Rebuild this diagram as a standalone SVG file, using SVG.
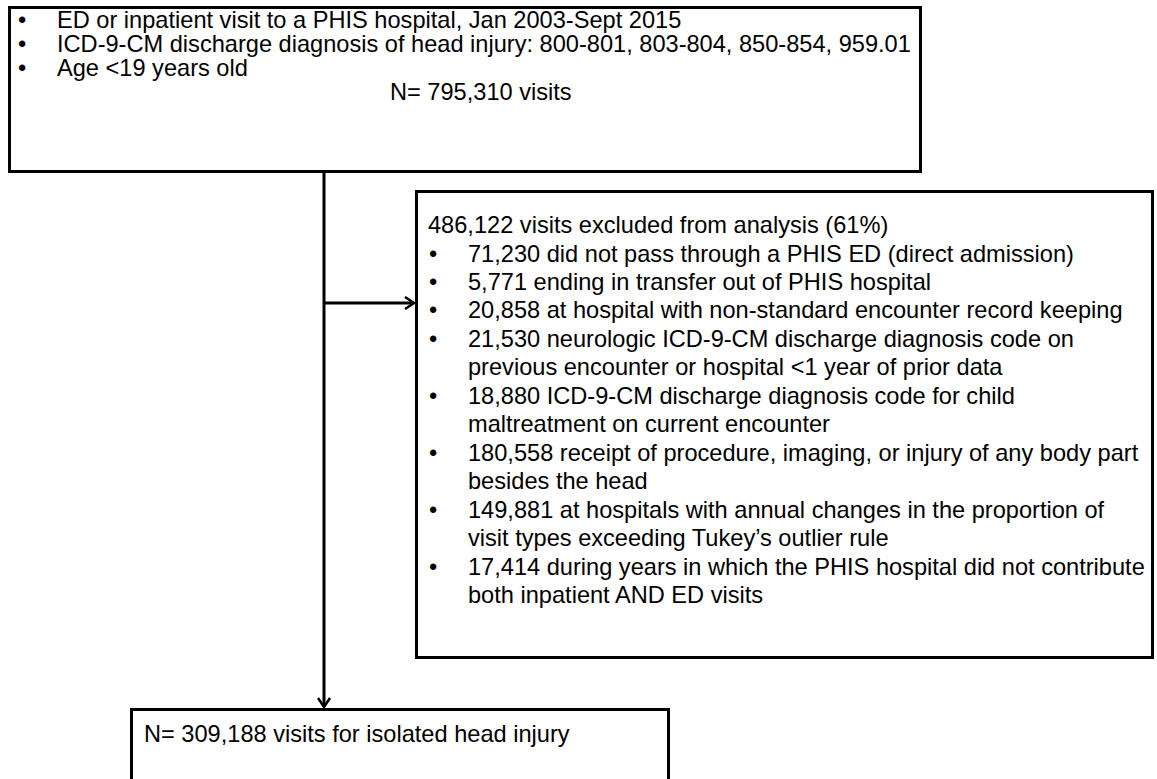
<svg xmlns="http://www.w3.org/2000/svg" width="1157" height="779" viewBox="0 0 1157 779">
<style>
text{font-family:"Liberation Sans",Arial,sans-serif;font-size:23.6px;fill:#000}
.box{fill:#fff;stroke:#000;stroke-width:3}
.conn{stroke:#000;stroke-width:3;fill:none}
</style>
<defs>
<marker id="ah" markerWidth="14" markerHeight="14" refX="11" refY="7" orient="auto" markerUnits="userSpaceOnUse">
<path d="M2,1 L11,7 L2,13" fill="none" stroke="#000" stroke-width="2.5"/>
</marker>
</defs>
<rect width="1157" height="779" fill="#fff"/>
<g id="connectors">
<path class="conn" d="M324,172 V707" marker-end="url(#ah)"/>
<path class="conn" d="M324,303 H414" marker-end="url(#ah)"/>
</g>
<g id="node-top">
<rect class="box" x="9.5" y="7.5" width="911" height="164"/>
<text x="18" y="28">•</text><text x="57" y="28">ED or inpatient visit to a PHIS hospital, Jan 2003-Sept 2015</text>
<text x="18" y="52">•</text><text x="57" y="52">ICD-9-CM discharge diagnosis of head injury: 800-801, 803-804, 850-854, 959.01</text>
<text x="18" y="76">•</text><text x="57" y="76">Age &lt;19 years old</text>
<text x="390" y="100">N= 795,310 visits</text>
</g>
<g id="node-excluded">
<rect class="box" x="416.5" y="191.5" width="736" height="466"/>
<text x="428" y="233">486,122 visits excluded from analysis (61%)</text>
<text x="429" y="261.5">•</text><text x="468" y="261.5">71,230 did not pass through a PHIS ED (direct admission)</text>
<text x="429" y="290">•</text><text x="468" y="290">5,771 ending in transfer out of PHIS hospital</text>
<text x="429" y="318.4">•</text><text x="468" y="318.4">20,858 at hospital with non-standard encounter record keeping</text>
<text x="429" y="346.8">•</text><text x="468" y="346.8">21,530 neurologic ICD-9-CM discharge diagnosis code on</text>
<text x="468" y="375.3">previous encounter or hospital &lt;1 year of prior data</text>
<text x="429" y="403.8">•</text><text x="468" y="403.8">18,880 ICD-9-CM discharge diagnosis code for child</text>
<text x="468" y="432.2">maltreatment on current encounter</text>
<text x="429" y="460.7">•</text><text x="468" y="460.7">180,558 receipt of procedure, imaging, or injury of any body part</text>
<text x="468" y="489.1">besides the head</text>
<text x="429" y="517.6">•</text><text x="468" y="517.6">149,881 at hospitals with annual changes in the proportion of</text>
<text x="468" y="546">visit types exceeding Tukey’s outlier rule</text>
<text x="429" y="574.5">•</text><text x="468" y="574.5">17,414 during years in which the PHIS hospital did not contribute</text>
<text x="468" y="603">both inpatient AND ED visits</text>
</g>
<g id="node-final">
<rect class="box" x="131.5" y="709.5" width="537" height="90"/>
<text x="144" y="742">N= 309,188 visits for isolated head injury</text>
</g>
</svg>
